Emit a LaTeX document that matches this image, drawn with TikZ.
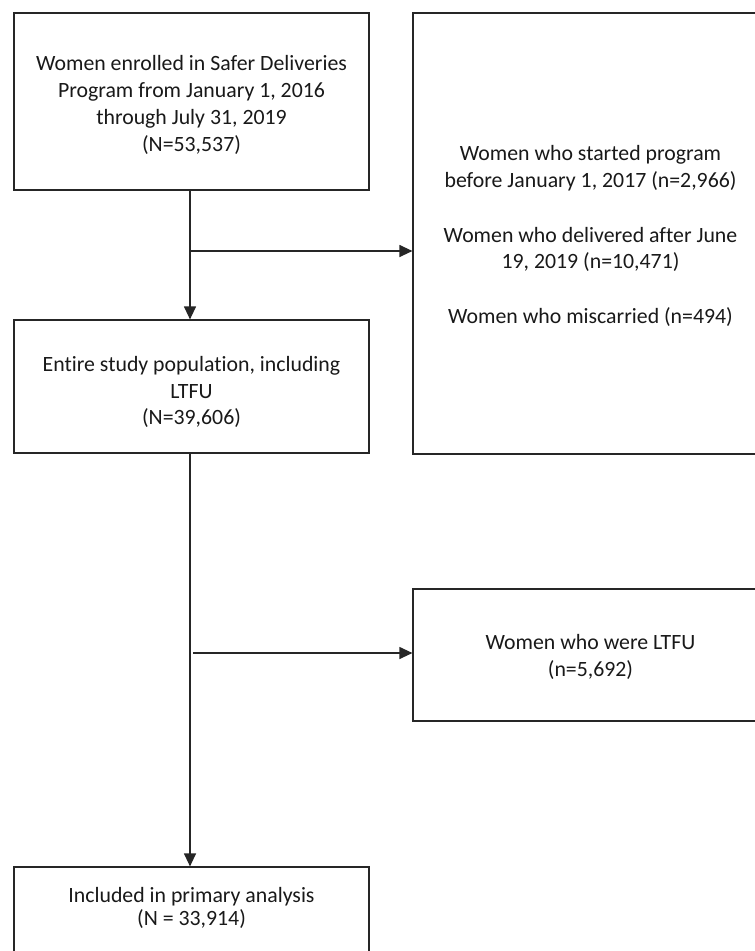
\documentclass[tikz,border=0pt]{standalone}
\usepackage{fontspec}
\setmainfont{Carlito}[Ligatures=NoCommon]
\usetikzlibrary{arrows.meta}
\tikzset{
  box/.style={draw=black!85, line width=1.2pt, minimum width=355pt, inner sep=0pt},
  txt/.style={align=center, inner sep=0pt, font=\fontsize{21.8}{26.8}\selectfont, text=black!90},
  arr/.style={draw=black!85, line width=1.2pt, -{Triangle[length=13pt,width=12pt]}}
}
\begin{document}
\begin{tikzpicture}[x=1pt,y=1pt]
\clip (0,0) rectangle (755,-951);
\fill[white] (0,0) rectangle (755,-951);
\node[box, minimum height=177pt] (b1) at (191.5,-101.5) {};
\node[txt] (t1) at (191.5,-105)
  {Women enrolled in Safer Deliveries\\Program from January 1, 2016\\through July 31, 2019\\(N=53,537)};
\node[box, minimum height=441pt] (e1) at (590.5,-233.5) {};
\node[txt] (s1) at (590.5,-236)
  {Women who started program\\before January 1, 2017 (n=2,966)\\[28pt]Women who delivered after June\\19, 2019 (n=10,471)\\[28pt]Women who miscarried (n=494)};
\node[box, minimum height=133pt] (b2) at (191.5,-386.5) {};
\node[txt] (t2) at (191.5,-392)
  {Entire study population, including\\LTFU\\(N=39,606)};
\node[box, minimum height=132pt] (e2) at (590.5,-655) {};
\node[txt] (s2) at (590.5,-657)
  {Women who were LTFU\\(n=5,692)};
\node[box, minimum height=90pt] (b3) at (191.5,-912) {};
\node[txt, font=\fontsize{21.8}{23.5}\selectfont] (t3) at (191.5,-908)
  {Included in primary analysis\\(N = 33,914)};
\coordinate (j1) at ([xshift=-1.5pt]b1.south |- 0,-251);
\coordinate (j2) at ([xshift=1.5pt]b2.south |- 0,-653);
\draw[arr] ([xshift=-1.5pt]b1.south) -- ([xshift=-1.5pt]b2.north);
\draw[arr] (j1) -- (j1 -| e1.west);
\draw[arr] ([xshift=-1.5pt]b2.south) -- ([xshift=-1.5pt]b3.north);
\draw[arr] (j2) -- (j2 -| e2.west);
\end{tikzpicture}
\end{document}
